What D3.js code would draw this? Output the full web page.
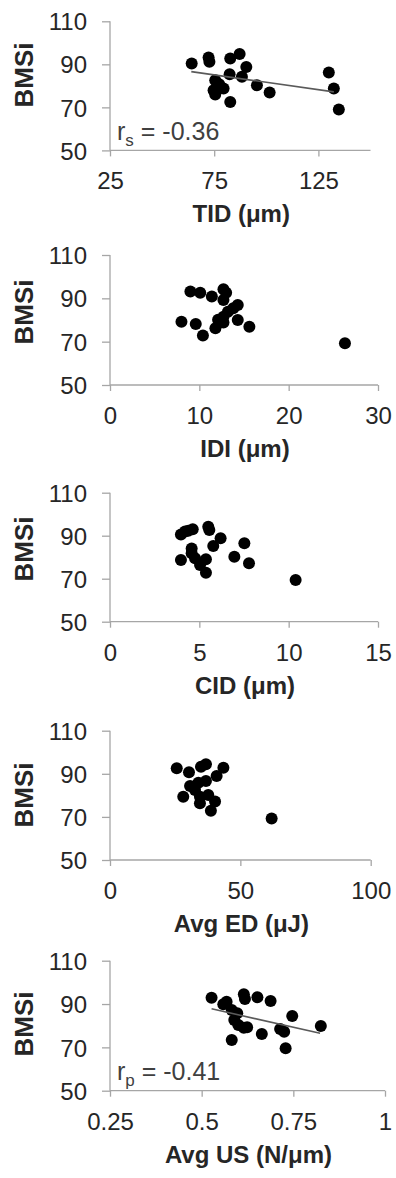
<!DOCTYPE html>
<html>
<head>
<meta charset="utf-8">
<script src="https://cdn.jsdelivr.net/npm/d3@7"></script>
<style>
  html, body { margin: 0; padding: 0; background: #fff; }
  svg { display: block; }
  text { font-family: "Liberation Sans", Arial, sans-serif; }
</style>
</head>
<body>
<svg id="chart" width="396" height="1178"></svg>
<script>
// ---- data ----
const yTicks = [50, 70, 90, 110];
const yTitle = "BMSi";

const tidX = [64.2, 72.3, 72.7, 82.7, 87.2, 90.4, 82.4, 88.3, 75.5, 74.7, 75.5, 79.5, 77.4, 82.7, 95.5, 101.6, 130.0, 132.4, 134.8];
const tidY = [90.4, 93.2, 91.2, 92.7, 94.8, 88.8, 85.4, 84.2, 82.6, 78.0, 76.0, 78.8, 80.8, 72.5, 80.3, 76.9, 86.2, 78.8, 69.0];
const tidTicks = [25, 75, 125];
const tidTrendX = [64, 132.4];
const tidTrendY = [86.6, 77.2];

const idiX = [9.0, 10.1, 11.4, 12.7, 13.0, 12.7, 14.3, 13.8, 13.2, 12.7, 12.1, 12.7, 11.8, 8.0, 9.6, 10.4, 14.3, 15.6, 26.3];
const idiY = [93.1, 92.6, 90.8, 94.2, 92.6, 89.2, 86.9, 85.4, 83.8, 81.5, 80.1, 78.9, 76.2, 79.2, 78.2, 72.9, 80.0, 76.9, 69.3];
const idiTicks = [0, 10, 20, 30];

const cidX = [3.97, 4.2, 4.38, 4.63, 5.5, 5.56, 6.19, 5.78, 4.57, 4.57, 4.76, 3.97, 5.37, 5.04, 5.37, 6.96, 7.52, 7.78, 10.39];
const cidY = [90.6, 91.9, 92.3, 93.0, 94.2, 92.7, 88.8, 85.2, 84.1, 81.8, 79.5, 78.7, 79.0, 76.4, 72.8, 80.2, 86.5, 77.2, 69.4];
const cidTicks = [0, 5, 10, 15];

const edX = [25.6, 30.3, 34.9, 36.8, 43.5, 40.9, 36.8, 33.9, 30.7, 32.6, 28.1, 34.5, 37.7, 34.5, 40.3, 38.7, 62.0];
const edY = [92.6, 90.7, 93.3, 94.4, 92.8, 89.0, 86.7, 85.9, 84.3, 82.5, 79.4, 79.4, 80.2, 76.3, 77.1, 72.9, 69.3];
const edTicks = [0, 50, 100];

const usX = [0.527, 0.559, 0.568, 0.582, 0.597, 0.589, 0.600, 0.615, 0.624, 0.615, 0.618, 0.652, 0.688, 0.747, 0.582, 0.664, 0.714, 0.725, 0.729, 0.825];
const usY = [92.9, 89.9, 91.1, 87.2, 85.7, 82.6, 80.3, 79.1, 79.3, 94.5, 92.3, 93.1, 91.4, 84.5, 73.4, 76.2, 78.5, 77.2, 69.6, 79.9];
const usTicks = [0.25, 0.5, 0.75, 1];
const usTrendX = [0.527, 0.823];
const usTrendY = [87.8, 76.5];

const panels = [
  { title: "TID (μm)", x: tidX, y: tidY, ticks: tidTicks, domain: [25, 150], trendX: tidTrendX, trendY: tidTrendY, r: ["r", "s", " = -0.36"] },
  { title: "IDI (μm)", x: idiX, y: idiY, ticks: idiTicks, domain: [0, 30] },
  { title: "CID (μm)", x: cidX, y: cidY, ticks: cidTicks, domain: [0, 15] },
  { title: "Avg ED (μJ)", x: edX, y: edY, ticks: edTicks, domain: [0, 100] },
  { title: "Avg US (N/μm)", x: usX, y: usY, ticks: usTicks, domain: [0.25, 1], trendX: usTrendX, trendY: usTrendY, r: ["r", "p", " = -0.41"] }
];

// ---- layout (pixels) ----
const layout = [
  { top: 21.3, bottom: 150.4, left: 110, right: 370.5, yTitleCy: 75 },
  { top: 255, bottom: 385, left: 110, right: 378, yTitleCy: 312 },
  { top: 492.7, bottom: 621.7, left: 110, right: 378, yTitleCy: 549 },
  { top: 730.7, bottom: 860, left: 110, right: 370.7, yTitleCy: 795 },
  { top: 960.7, bottom: 1090.7, left: 110, right: 385, yTitleCy: 1024 }
];

const svg = d3.select("#chart");
const axisColor = "#a6a6a6";
const textColor = "#262626";

panels.forEach((p, i) => {
  const L = layout[i];
  const x = d3.scaleLinear().domain(p.domain).range([L.left, L.right]);
  const y = d3.scaleLinear().domain([50, 110]).range([L.bottom, L.top]);
  const g = svg.append("g");

  // y axis
  const ya = g.append("g").attr("transform", `translate(${L.left},0)`)
    .call(d3.axisLeft(y).tickValues(yTicks).tickSize(8).tickPadding(15).tickFormat(d3.format("d")));
  ya.select(".domain").attr("stroke", axisColor).attr("stroke-width", 1.3).attr("d", `M-0,${L.top}V${L.bottom}`);
  ya.selectAll(".tick line").attr("stroke", axisColor).attr("stroke-width", 1.3);
  ya.selectAll(".tick text").attr("fill", textColor).style("font-size", "24px").attr("dy", "0.36em");

  // x axis
  const xa = g.append("g").attr("transform", `translate(0,${L.bottom})`)
    .call(d3.axisBottom(x).tickValues(p.ticks).tickSize(6).tickPadding(16).tickFormat(d => String(d)));
  xa.select(".domain").attr("stroke", axisColor).attr("stroke-width", 1.3).attr("d", `M${L.left},0H${L.right}`);
  xa.selectAll(".tick line").attr("stroke", axisColor).attr("stroke-width", 1.3);
  xa.selectAll(".tick text").attr("fill", textColor).style("font-size", "24px").attr("dy", "0.71em");

  // points
  g.append("g").selectAll("circle").data(p.x.map((v, k) => [v, p.y[k]])).join("circle")
    .attr("cx", d => x(d[0])).attr("cy", d => y(d[1])).attr("r", 6).attr("fill", "#000");

  // trend line
  if (p.trendX) {
    g.append("line")
      .attr("x1", x(p.trendX[0])).attr("y1", y(p.trendY[0]))
      .attr("x2", x(p.trendX[1])).attr("y2", y(p.trendY[1]))
      .attr("stroke", "#5a5a5a").attr("stroke-width", 1.6);
  }

  // correlation label
  if (p.r) {
    const t = g.append("text").attr("x", L.left + 7).attr("y", L.bottom - 10.5)
      .attr("fill", "#404040").style("font-size", "25px");
    t.append("tspan").text(p.r[0]);
    t.append("tspan").attr("dy", 6).style("font-size", "17px").text(p.r[1]);
    t.append("tspan").attr("dy", -6).text(p.r[2]);
  }

  // x title
  g.append("text").attr("x", (L.left + L.right) / 2 + 1).attr("y", L.bottom + 72)
    .attr("text-anchor", "middle").attr("fill", textColor)
    .style("font-size", "24px").style("font-weight", "bold").text(p.title);

  // y title
  g.append("text").attr("transform", `translate(33,${L.yTitleCy}) rotate(-90)`)
    .attr("text-anchor", "middle").attr("fill", textColor)
    .style("font-size", "26px").style("font-weight", "bold").text(yTitle);
});
</script>
</body>
</html>
